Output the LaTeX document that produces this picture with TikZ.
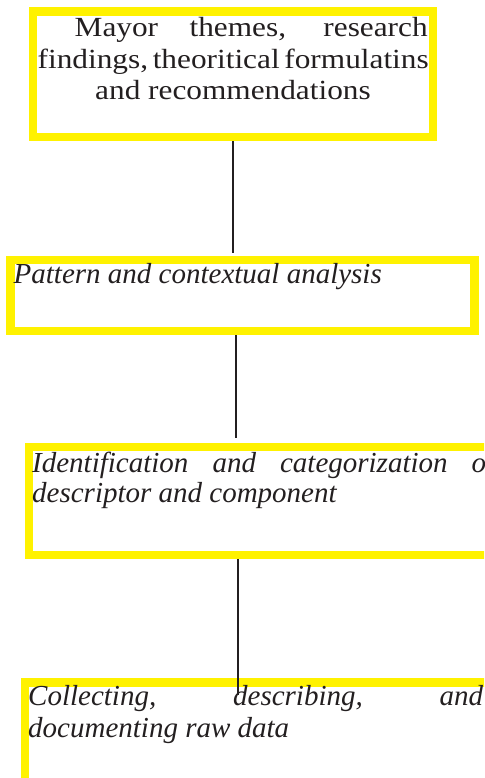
\documentclass[tikz,border=0pt]{standalone}
\usepackage{fontspec}
\setmainfont{Liberation Serif}
\newfontfamily\uprt[FakeStretch=1.13]{Liberation Serif}
\definecolor{boxyellow}{RGB}{255,242,0}
\definecolor{ink}{RGB}{35,31,32}
\tikzset{
  ybox/.style={draw=boxyellow, line width=8.5pt, rectangle, inner sep=0pt},
  conn/.style={draw=ink, line width=2pt},
  uptext/.style={inner sep=0pt, anchor=base west, text=ink, font=\uprt\fontsize{27.7pt}{31.7pt}\selectfont},
  ittext/.style={inner sep=0pt, anchor=base west, text=ink, font=\fontsize{29pt}{33pt}\selectfont\itshape}
}
\begin{document}
\begin{tikzpicture}[x=1pt,y=-1pt]
\useasboundingbox (0,0) rectangle (484,778);
\clip (0,0) rectangle (484,778);
% boxes
\node[ybox, minimum width=400pt, minimum height=125.5pt] (b1) at (233,74.25) {};
\node[ybox, minimum width=464pt, minimum height=71pt] (b2) at (242.5,295.5) {};
\node[ybox, minimum width=471pt, minimum height=108pt] (b3) at (264.5,501) {};
\node[ybox, minimum width=475pt, minimum height=117.5pt] (b4) at (262.5,741.25) {};
% texts
\node[uptext] (t1a) at (74.5,36.7) {\makebox[353pt][s]{Mayor themes, research}};
\node[uptext] (t1b) at (37.5,68.3) {\makebox[391pt][s]{findings,\hspace{3pt plus 1fil minus 3pt}theoritical\hspace{3pt plus 1fil minus 3pt}formulatins}};
\node[uptext, anchor=base] (t1c) at (233,100) {and recommendations};
\node[ittext] (t2) at (13.5,283.3) {Pattern and contextual analysis};
\node[ittext] (t3a) at (32,472) {\makebox[462pt][s]{Identification and categorization of}};
\node[ittext] (t3b) at (32,502) {descriptor and component};
\node[ittext] (t4a) at (28,705) {\makebox[455pt][s]{Collecting, describing, and}};
\node[ittext] (t4b) at (28,737) {documenting raw data};
% connectors
\coordinate (x2) at (235.5,0);
\coordinate (x3) at (238,0);
\coordinate (e3) at (238,695);
\draw[conn, shorten >=3pt] (b1.south) -- (b1.south |- b2.north);
\draw[conn, shorten >=4.75pt] (b2.south -| x2) -- (x2 |- b3.north);
\draw[conn] (b3.south -| x3) -- (e3);
\end{tikzpicture}
\end{document}
